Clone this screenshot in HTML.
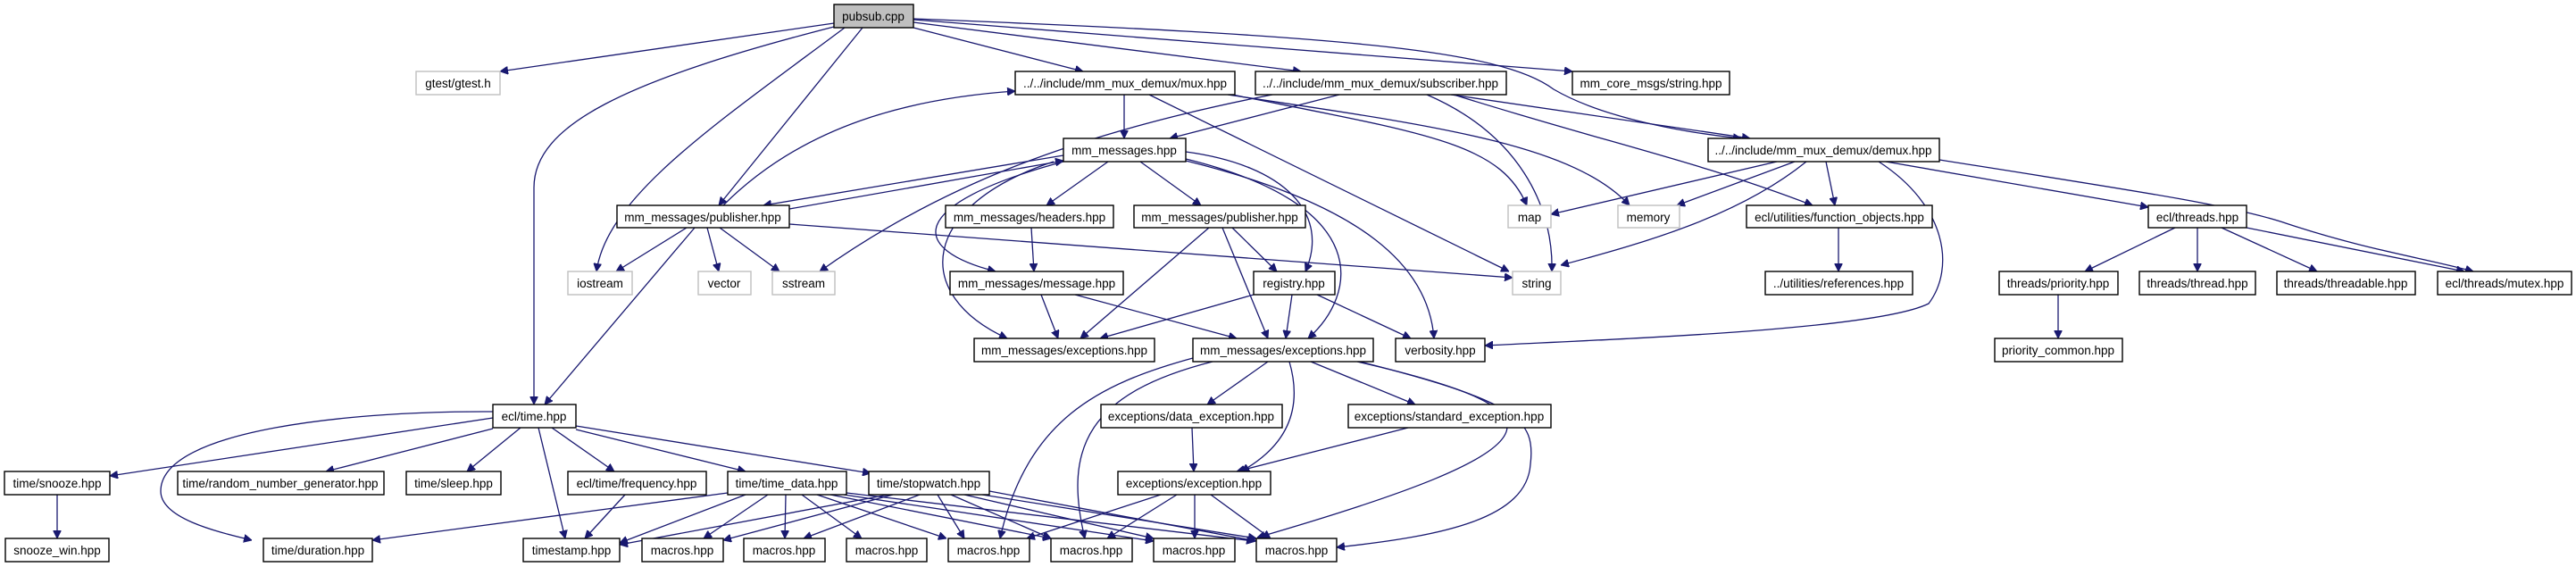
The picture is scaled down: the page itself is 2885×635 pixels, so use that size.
<!DOCTYPE html>
<html><head><meta charset="utf-8"><style>
html,body{margin:0;padding:0;background:#fff;}
svg{display:block;}
text{font-family:"Liberation Sans",sans-serif;font-size:13.5px;fill:#000;text-anchor:middle;}
.n{fill:#fff;stroke:#000;stroke-width:1.4;}
.g{fill:#fff;stroke:#bfbfbf;stroke-width:1.4;}
.gt{fill:#666;}
.e{fill:none;stroke:#191970;stroke-width:1.3;}
</style></head><body>
<svg width="2885" height="635" viewBox="0 0 2885 635" xmlns="http://www.w3.org/2000/svg">
<defs><marker id="a" viewBox="0 0 10 10" refX="10" refY="5" markerWidth="9" markerHeight="9" markerUnits="userSpaceOnUse" orient="auto"><path d="M0,0 L10,5 L0,10 z" fill="#191970" stroke="#191970"/></marker></defs>
<g class="e" marker-end="url(#a)">
<path d="M934,26 L560,80"/>
<path d="M934,30 C700,90 598,140 598,210 L598,453"/>
<path d="M946,31 C800,140 680,220 668,304"/>
<path d="M966,31 L805,230"/>
<path d="M1023,31 L1213,80"/>
<path d="M1023,25 L1457,80"/>
<path d="M1023,22 L1761,80"/>
<path d="M1023,21 C1500,40 1680,55 1740,100 C1800,135 1900,150 1950,155"/>
<path d="M1259,106 L1259,155"/>
<path d="M1287,106 L1690,304"/>
<path d="M1380,106 C1600,150 1680,160 1710,230"/>
<path d="M1375,106 C1600,140 1760,160 1825,230"/>
<path d="M810,230 C900,140 1020,110 1137,102"/>
<path d="M1500,106 L1310,155"/>
<path d="M1425,106 C1200,150 1050,210 918,304"/>
<path d="M1598,106 C1700,150 1740,230 1738,304"/>
<path d="M1625,106 L1960,155"/>
<path d="M1628,106 C1800,160 1900,180 2030,230"/>
<path d="M1990,181 L1737,240"/>
<path d="M2010,181 L1878,230"/>
<path d="M2023,181 C1950,240 1850,270 1748,297"/>
<path d="M2045,181 L2055,230"/>
<path d="M2104,181 C2180,230 2190,300 2160,340 C2100,370 1800,380 1663,387"/>
<path d="M2112,181 L2406,232"/>
<path d="M2172,179 C2400,215 2500,230 2560,250 C2650,280 2720,290 2770,304"/>
<path d="M2059,255 L2059,304"/>
<path d="M2436,255 L2335,304"/>
<path d="M2461,255 L2461,304"/>
<path d="M2488,255 L2595,304"/>
<path d="M2516,255 L2760,304"/>
<path d="M2305,330 L2305,379"/>
<path d="M769,255 L690,304"/>
<path d="M778,255 L610,453"/>
<path d="M792,255 L805,304"/>
<path d="M806,255 L873,304"/>
<path d="M884,251 L1694,311"/>
<path d="M884,234 L1191,180"/>
<path d="M1191,174 L855,230"/>
<path d="M1241,181 L1172,230"/>
<path d="M1277,181 L1345,230"/>
<path d="M1328,170 C1440,185 1490,240 1462,304"/>
<path d="M1328,178 C1540,230 1520,330 1465,379"/>
<path d="M1328,180 C1530,230 1600,300 1606,379"/>
<path d="M1191,181 C1010,230 1020,280 1115,304"/>
<path d="M1180,181 C1030,230 1020,330 1128,379"/>
<path d="M1155,255 L1158,304"/>
<path d="M1354,255 L1210,379"/>
<path d="M1380,255 L1430,304"/>
<path d="M1369,255 L1420,379"/>
<path d="M1166,330 L1185,379"/>
<path d="M1204,330 L1385,379"/>
<path d="M1404,330 L1232,379"/>
<path d="M1447,330 L1440,379"/>
<path d="M1475,330 L1580,379"/>
<path d="M1420,405 L1352,453"/>
<path d="M1468,405 L1585,453"/>
<path d="M1444,405 C1460,460 1440,500 1390,528"/>
<path d="M1336,401 C1230,430 1150,470 1120,603"/>
<path d="M1358,405 C1220,440 1190,500 1215,603"/>
<path d="M1520,405 C1760,460 1760,500 1408,602"/>
<path d="M1523,405 C1700,450 1720,470 1714,520 C1710,580 1620,600 1497,613"/>
<path d="M1335,479 L1337,528"/>
<path d="M1577,479 L1385,528"/>
<path d="M1300,554 L1150,603"/>
<path d="M1318,554 L1240,603"/>
<path d="M1338,554 L1338,603"/>
<path d="M1356,554 L1423,603"/>
<path d="M552,468 L123,533"/>
<path d="M552,461 C400,460 180,480 180,550 C180,580 240,595 282,605"/>
<path d="M552,480 L365,528"/>
<path d="M583,479 L523,528"/>
<path d="M603,479 L633,603"/>
<path d="M618,479 L688,528"/>
<path d="M645,481 L835,528"/>
<path d="M645,477 L975,530"/>
<path d="M64,554 L64,603"/>
<path d="M700,554 L655,603"/>
<path d="M815,552 L417,605"/>
<path d="M835,554 L694,608"/>
<path d="M860,554 L788,603"/>
<path d="M880,554 L879,603"/>
<path d="M898,554 L965,603"/>
<path d="M915,554 L1060,603"/>
<path d="M930,554 L1177,603"/>
<path d="M945,554 L1292,606"/>
<path d="M948,552 L1405,606"/>
<path d="M995,554 L694,610"/>
<path d="M1000,554 L810,605"/>
<path d="M1030,554 L900,603"/>
<path d="M1050,554 L1080,603"/>
<path d="M1065,554 L1177,603"/>
<path d="M1080,554 L1292,603"/>
<path d="M1100,554 L1407,603"/>
<path d="M1108,550 L1407,606"/>
</g>
<g>
<rect x="934" y="5" width="89" height="26" fill="#bfbfbf" stroke="#000" stroke-width="1.4"/><text x="978" y="23">pubsub.cpp</text>
<rect class="g" x="466" y="80" width="94" height="26"/><text x="513" y="98">gtest/gtest.h</text>
<rect class="n" x="1137" y="80" width="246" height="26"/><text x="1260" y="98">../../include/mm_mux_demux/mux.hpp</text>
<rect class="n" x="1406" y="80" width="281" height="26"/><text x="1546" y="98">../../include/mm_mux_demux/subscriber.hpp</text>
<rect class="n" x="1761" y="80" width="176" height="26"/><text x="1849" y="98">mm_core_msgs/string.hpp</text>
<rect class="n" x="1913" y="155" width="259" height="26"/><text x="2042" y="173">../../include/mm_mux_demux/demux.hpp</text>
<rect class="n" x="1191" y="155" width="137" height="26"/><text x="1259" y="173">mm_messages.hpp</text>
<rect class="n" x="691" y="230" width="193" height="25"/><text x="787" y="248">mm_messages/publisher.hpp</text>
<rect class="n" x="1059" y="230" width="188" height="25"/><text x="1153" y="248">mm_messages/headers.hpp</text>
<rect class="n" x="1270" y="230" width="192" height="25"/><text x="1366" y="248">mm_messages/publisher.hpp</text>
<rect class="g" x="1689" y="230" width="48" height="25"/><text x="1713" y="248">map</text>
<rect class="g" x="1812" y="230" width="69" height="25"/><text x="1846" y="248">memory</text>
<rect class="n" x="1956" y="230" width="208" height="25"/><text x="2060" y="248">ecl/utilities/function_objects.hpp</text>
<rect class="n" x="2406" y="230" width="110" height="25"/><text x="2461" y="248">ecl/threads.hpp</text>
<rect class="g" x="636" y="304" width="72" height="26"/><text x="672" y="322">iostream</text>
<rect class="g" x="782" y="304" width="59" height="26"/><text x="811" y="322">vector</text>
<rect class="g" x="865" y="304" width="70" height="26"/><text x="900" y="322">sstream</text>
<rect class="n" x="1064" y="304" width="194" height="26"/><text x="1161" y="322">mm_messages/message.hpp</text>
<rect class="n" x="1404" y="304" width="91" height="26"/><text x="1449" y="322">registry.hpp</text>
<rect class="g" x="1694" y="304" width="54" height="26"/><text x="1721" y="322">string</text>
<rect class="n" x="1977" y="304" width="165" height="26"/><text x="2059" y="322">../utilities/references.hpp</text>
<rect class="n" x="2239" y="304" width="133" height="26"/><text x="2305" y="322">threads/priority.hpp</text>
<rect class="n" x="2396" y="304" width="130" height="26"/><text x="2461" y="322">threads/thread.hpp</text>
<rect class="n" x="2550" y="304" width="155" height="26"/><text x="2627" y="322">threads/threadable.hpp</text>
<rect class="n" x="2730" y="304" width="150" height="26"/><text x="2805" y="322">ecl/threads/mutex.hpp</text>
<rect class="n" x="1091" y="379" width="202" height="26"/><text x="1192" y="397">mm_messages/exceptions.hpp</text>
<rect class="n" x="1336" y="379" width="202" height="26"/><text x="1437" y="397">mm_messages/exceptions.hpp</text>
<rect class="n" x="1563" y="379" width="100" height="26"/><text x="1613" y="397">verbosity.hpp</text>
<rect class="n" x="2234" y="379" width="143" height="26"/><text x="2305" y="397">priority_common.hpp</text>
<rect class="n" x="552" y="453" width="93" height="26"/><text x="598" y="471">ecl/time.hpp</text>
<rect class="n" x="1233" y="453" width="203" height="26"/><text x="1334" y="471">exceptions/data_exception.hpp</text>
<rect class="n" x="1510" y="453" width="227" height="26"/><text x="1623" y="471">exceptions/standard_exception.hpp</text>
<rect class="n" x="5" y="528" width="118" height="26"/><text x="64" y="546">time/snooze.hpp</text>
<rect class="n" x="199" y="528" width="231" height="26"/><text x="314" y="546">time/random_number_generator.hpp</text>
<rect class="n" x="455" y="528" width="106" height="26"/><text x="508" y="546">time/sleep.hpp</text>
<rect class="n" x="636" y="528" width="155" height="26"/><text x="713" y="546">ecl/time/frequency.hpp</text>
<rect class="n" x="815" y="528" width="133" height="26"/><text x="881" y="546">time/time_data.hpp</text>
<rect class="n" x="973" y="528" width="135" height="26"/><text x="1040" y="546">time/stopwatch.hpp</text>
<rect class="n" x="1252" y="528" width="171" height="26"/><text x="1337" y="546">exceptions/exception.hpp</text>
<rect class="n" x="6" y="603" width="116" height="26"/><text x="64" y="621">snooze_win.hpp</text>
<rect class="n" x="295" y="603" width="122" height="26"/><text x="356" y="621">time/duration.hpp</text>
<rect class="n" x="586" y="603" width="108" height="26"/><text x="640" y="621">timestamp.hpp</text>
<rect class="n" x="719" y="603" width="91" height="26"/><text x="764" y="621">macros.hpp</text>
<rect class="n" x="833" y="603" width="91" height="26"/><text x="878" y="621">macros.hpp</text>
<rect class="n" x="948" y="603" width="90" height="26"/><text x="993" y="621">macros.hpp</text>
<rect class="n" x="1062" y="603" width="91" height="26"/><text x="1107" y="621">macros.hpp</text>
<rect class="n" x="1177" y="603" width="91" height="26"/><text x="1222" y="621">macros.hpp</text>
<rect class="n" x="1292" y="603" width="91" height="26"/><text x="1337" y="621">macros.hpp</text>
<rect class="n" x="1407" y="603" width="90" height="26"/><text x="1452" y="621">macros.hpp</text>
</g>
</svg>
</body></html>
